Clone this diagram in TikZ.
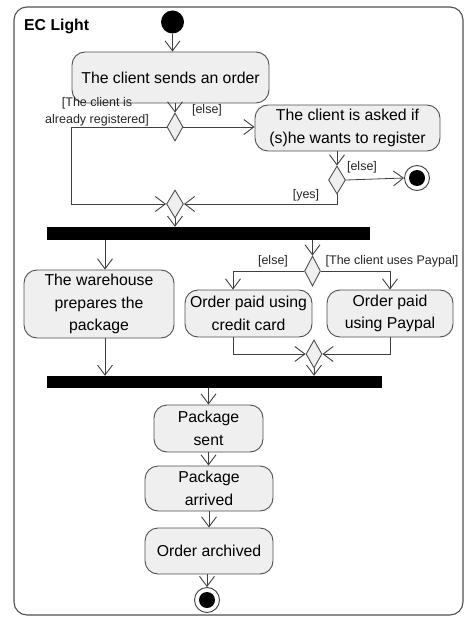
\documentclass[tikz,border=0pt]{standalone}
\usepackage{fontspec}
\setmainfont{Liberation Sans}
\usetikzlibrary{arrows.meta,shapes.geometric}
\definecolor{linec}{HTML}{404040}
\definecolor{boxfill}{HTML}{EFEFEF}
\definecolor{boxdraw}{HTML}{505050}
\tikzset{
  act/.style={draw=boxdraw, fill=boxfill, rounded corners=13pt, line width=0.9pt,
    align=center, inner sep=0pt, font=\fontsize{15.8}{22.5}\selectfont},
  dec/.style={diamond, draw=boxdraw, fill=boxfill, line width=0.9pt, inner sep=0pt,
    minimum width=16pt, minimum height=28pt},
  bar/.style={fill=black, draw=none, inner sep=0pt},
  flow/.style={draw=linec, line width=0.8pt, -{Straight Barb[length=10pt,width=15pt,line width=0.9pt]}},
  guard/.style={font=\fontsize{12.5}{17}\selectfont, text=black!85, inner sep=0pt, align=center},
}
\begin{document}
\begin{tikzpicture}[x=1pt,y=-1pt]
\useasboundingbox (0,0) rectangle (465,617);
% frame
\draw[draw=boxdraw, line width=1.1pt, rounded corners=13pt] (14,7) rectangle (463,615);
\node[anchor=west, font=\bfseries\fontsize{15.8}{18}\selectfont, inner sep=0pt] (title) at (24,26) {EC Light};

% nodes
\node[circle, fill=black, minimum size=23pt, inner sep=0pt] (start) at (172.5,22) {};
\node[act, minimum width=197pt, minimum height=51pt] (b1) at (170.5,77.5) {The client sends an order};
\node[dec] (d1) at (175,127) {};
\node[act, minimum width=185pt, minimum height=46pt] (b2) at (347.5,128) {The client is asked if\\(s)he wants to register};
\node[dec, minimum width=17pt] (d2) at (337,180) {};
\node[circle, draw=linec, line width=0.9pt, fill=white, minimum size=25pt, inner sep=0pt] (f1) at (417,178) {};
\node[circle, fill=black, minimum size=16pt, inner sep=0pt] (f1i) at (417,178) {};
\node[dec, minimum width=17pt] (m1) at (175,204) {};
\node[bar, minimum width=323pt, minimum height=13pt] (bar1) at (208.5,233.5) {};
\node[act, minimum width=150pt, minimum height=68pt] (b3) at (99,304) {The warehouse\\prepares the\\package};
\node[dec, minimum height=30pt] (d3) at (312.5,271) {};
\node[act, minimum width=127pt, minimum height=47pt] (b4) at (248.5,313.5) {Order paid using\\credit card};
\node[act, minimum width=126pt, minimum height=47pt] (b5) at (390,313.5) {Order paid\\using Paypal};
\node[dec] (m2) at (314,354) {};
\node[bar, minimum width=335pt, minimum height=12pt] (bar2) at (214.5,382) {};
\node[act, minimum width=109pt, minimum height=47pt] (b6) at (208.5,428.5) {Package\\sent};
\node[act, minimum width=128pt, minimum height=45pt] (b7) at (209,488.5) {Package\\arrived};
\node[act, minimum width=128pt, minimum height=46pt] (b8) at (209,551) {Order archived};
\node[circle, draw=linec, line width=0.9pt, fill=white, minimum size=25pt, inner sep=0pt] (f2) at (207,600) {};
\node[circle, fill=black, minimum size=16pt, inner sep=0pt] (f2i) at (207,600) {};

% lane coordinates
\coordinate (c1) at (71,127);
\coordinate (x3) at (105,0);
\coordinate (x4) at (233,0);

% guards
\node[guard] (g1) at (97,112) {[The client is\\already registered]};
\node[guard] (g2) at (207,110) {[else]};
\node[guard] (g3) at (362,167) {[else]};
\node[guard] (g4) at (306,195) {[yes]};
\node[guard] (g5) at (273,261) {[else]};
\node[guard] (g6) at (392,261) {[The client uses Paypal]};

% connectors
\draw[flow] (start.south) -- (start.south |- b1.north);
\draw[flow] (d1.north |- b1.south) -- (d1.north);
\draw[flow] (d1.east) -- (d1.east -| b2.west);
\draw[flow] (d1.west) -- (c1) |- (m1.west);
\draw[flow] (d2.north |- b2.south) -- (d2.north);
\draw[flow] (d2.east) -- (f1.west);
\draw[flow] (d2.south) |- (m1.east);
\draw[flow] (m1.south) -- (m1.south |- bar1.north);
\draw[flow] (bar1.south -| x3) -- (b3.north -| x3);
\draw[flow] (bar1.south -| d3.north) -- (d3.north);
\draw[flow] (d3.west) -| (b4.north -| x4);
\draw[flow] (d3.east) -| (b5.north);
\draw[flow] (b4.south -| x4) |- (m2.west);
\draw[flow] (b5.south) |- (m2.east);
\draw[flow] (m2.south) -- (m2.south |- bar2.north);
\draw[flow] (b3.south -| x3) -- (bar2.north -| x3);
\draw[flow] (bar2.south -| b6.north) -- (b6.north);
\draw[flow] (b6.south) -- (b6.south |- b7.north);
\draw[flow] (b7.south) -- (b7.south |- b8.north);
\draw[flow] (b8.south -| f2.north) -- (f2.north);
\end{tikzpicture}
\end{document}
